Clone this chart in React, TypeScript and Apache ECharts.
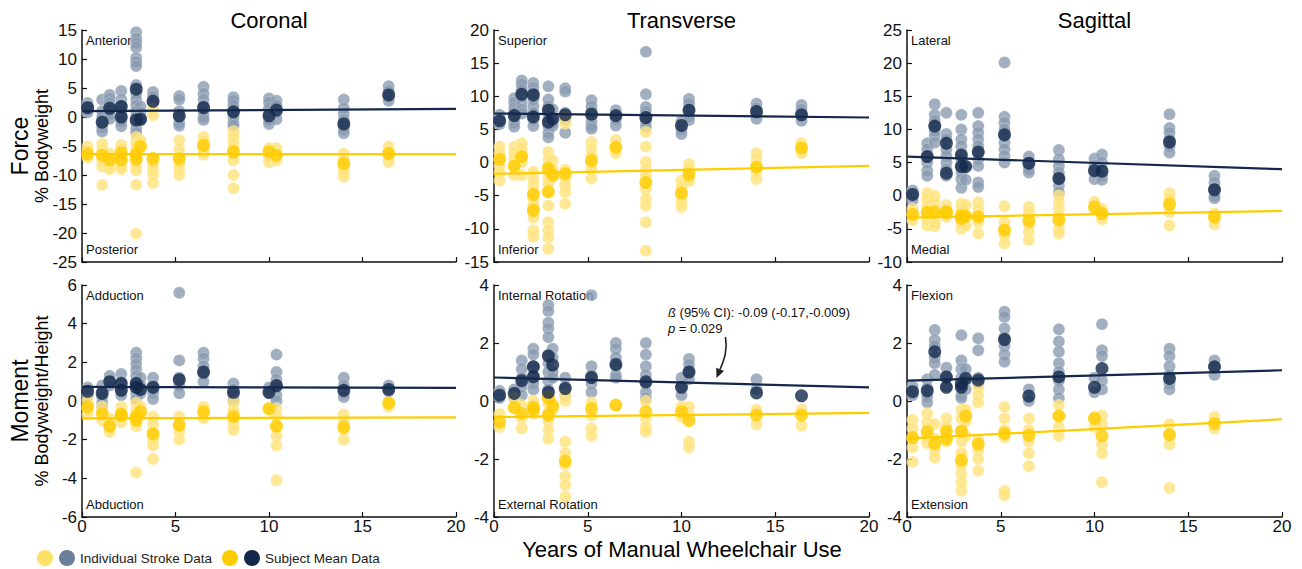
import { useEffect, useRef } from "react";
import * as echarts from "echarts";

const FONT = "'Liberation Sans', Arial, Helvetica, sans-serif";

// Years of manual wheelchair use for each subject
const years = [0.3, 1.08, 1.48, 2.1, 2.1, 2.9, 2.9, 3.13, 3.8, 5.2, 6.5, 8.1, 10.0, 10.4, 14.0, 16.4];

const columnTitles = ["Coronal", "Transverse", "Sagittal"];
const xTickValues = [0, 5, 10, 15, 20];

// ---------- Force, coronal (% bodyweight) ----------
const cfPos = [
  [2.4, 1.8, 1.2, 0.8], [3.0, 1.0, 0, -1.0, -1.8, -2.5], [3.8, 3.2, 2.4, 1.2, 0.5, -0.3],
  [4.5, 3.0, 2.0, 1.0, 0.2], [-0.8, -1.6], [14.6, 13.5, 12.8, 12.0, 10.2, 9.5, 8.8, 5.5, 4.0, 3.0],
  [2.0, 1.0, 0, -1.0, -2.0, -2.7], [1.8, 0.8, 0, -0.5], [4.3, 3.5, 2.5], [3.6, 3.0, 1.0, 0, -1.0, -1.5],
  [5.2, 4.0, 3.0, 2.0, 1.0, 0, -0.5], [3.4, 2.8, 2.0, 1.0, 0, -1.0, -1.5], [3.2, 2.5, 1.5, 0.5, -0.5, -1.2],
  [2.8, 2.0, 0.8, -0.4], [3.0, 1.5, 0.5, -0.5, -1.5, -2.2, -2.8], [5.3, 4.5, 3.5, 2.8],
];
const cfNeg = [
  [-5.1, -5.8, -6.5, -7.0], [-4.6, -5.5, -6.5, -7.5, -8.5, -11.7], [-6.3, -7.5, -8.5, -9.0],
  [-4.8, -5.5, -6.5], [-7.5, -8.5, -9.0], [-3.5, -4.5, -5.5, -6.5, -11.7, -20.1], [-7.5, -8.5, -9.2],
  [-4.0, -5.0], [1.3, 0.3, -7.0, -8.0, -9.0, -10.0, -11.4], [-4.0, -5.5, -7.0, -8.0, -9.0, -10.0],
  [-3.4, -4.2, -5.2, -6.0, -6.5], [-2.5, -3.5, -4.5, -5.5, -6.5, -7.5, -10.0, -12.3],
  [-5.4, -6.5, -7.0, -7.8], [-5.4, -6.5, -7.5], [-6.3, -7.5, -8.5, -9.5, -10.3], [-5.1, -6.0, -7.0, -7.8],
];
const cfPosMean = [1.6, -0.9, 1.5, 1.8, 0.0, 4.8, -0.5, -0.4, 2.7, 0.2, 1.6, 0.9, 0.2, 1.2, -1.2, 3.8];
const cfNegMean = [-6.4, -6.6, -7.4, -6.2, -7.4, -6.4, -7.3, -5.1, -7.2, -7.2, -4.9, -6.0, -6.0, -6.6, -8.0, -6.3];
const cfPosFit = [1.0, 1.4];
const cfNegFit = [-6.4, -6.4];

// ---------- Force, transverse ----------
const tfPos = [
  [7.2, 6.5, 5.8], [9.7, 9.0, 8.2, 7.5, 6.8, 6.0, 5.4], [12.4, 11.8, 11.0, 10.0, 9.0, 8.0, 7.4],
  [12.0, 11.3, 10.5, 9.5, 8.5], [7.5, 6.5, 5.5], [11.5, 9.5, 8.5, 7.5], [6.5, 5.5, 4.5, 3.8],
  [8.0, 7.0, 6.0, 5.5], [11.2, 10.7, 7.5, 6.5, 4.5], [9.4, 8.5, 7.8, 7.0, 6.2, 5.5, 5.1],
  [7.9, 7.2, 6.5, 5.6], [16.7, 10.3, 8.4, 7.7, 6.9, 6.2, 5.4], [6.2, 5.0, 4.3],
  [9.6, 8.9, 8.0, 7.0, 6.4], [8.9, 8.2, 7.4, 6.6], [8.7, 8.0, 7.2, 6.3],
];
const tfNeg = [
  [2.4, 1.4, 0.5, -0.5, -1.5, -2.7], [2.4, 1.5, 0.5, -0.5, -1.9], [2.9, 2.0, 1.0, 0, -1.9],
  [-1.4, -2.5, -3.5, -4.5, -5.5], [-6.5, -7.5, -8.3, -10.2, -11.2], [1.6, 0.5, -0.5, -1.5, -2.5, -3.2],
  [-4.5, -6.5, -9.0, -10.2, -11.3, -13.0], [0.3, -1.0, -2.2], [6.9, 5.9, -1.1, -2.5, -3.5, -4.5, -6.2],
  [3.1, 2.0, 1.0, 0, -1.0, -2.4], [3.4, 2.4, 1.4],
  [4.6, 2.4, 0.1, -1.0, -2.0, -3.0, -4.0, -5.5, -6.5, -9.0, -13.3], [-2.7, -3.7, -5.0, -6.0, -6.7],
  [-0.2, -1.0, -2.0, -2.8], [1.4, 0.5, -0.5, -1.5, -2.5], [2.9, 2.2, 1.4],
];
const tfPosMean = [6.3, 7.1, 10.3, 10.2, 6.9, 7.9, 6.1, 6.6, 7.2, 7.3, 7.1, 6.8, 5.6, 7.9, 7.7, 7.2];
const tfNegMean = [0.5, -0.5, 0.9, -4.8, -7.2, -0.9, -4.4, -1.9, -1.7, 0.3, 2.3, -3.0, -4.6, -1.8, -0.7, 2.2];
const tfPosFit = [7.4, 6.8];
const tfNegFit = [-1.7, -0.5];

// ---------- Force, sagittal ----------
const sfPos = [
  [0.8, 0, -0.7], [7.9, 7.0, 6.0, 5.0, 3.8, 3.0], [13.8, 12.2, 11.3, 10.5, 9.8, 9.0, 8.0],
  [12.5, 9.3, 8.5, 7.0, 6.0], [5.0, 4.0, 3.0], [12.2, 10.0, 8.5, 7.5, 6.5], [5.5, 4.5, 3.5, 2.5, 1.2],
  [4.5, 2.4], [12.5, 10.5, 9.5, 8.5, 7.5, 6.5, 5.5, 4.5, 2.0, 1.3],
  [20.1, 11.9, 11.0, 10.0, 9.0, 8.0, 7.0, 6.0, 5.0], [5.9, 5.0, 4.0, 3.5],
  [6.9, 5.5, 4.5, 3.5, 2.5, 1.5, 0.5], [5.6, 4.5, 3.5, 2.5], [6.2, 5.0, 4.0, 3.0, 2.4],
  [12.3, 10.2, 9.5, 8.5, 7.5, 6.5], [3.0, 2.0, 1.0, 0, -0.4],
];
const sfNeg = [
  [-2.0, -2.8, -3.7], [0.4, -0.5, -1.5, -2.5, -3.5, -4.5], [0, -1.0, -2.0, -3.0, -4.0, -4.6],
  [-1.4, -2.3, -3.2], [-2.8], [-1.2, -2.0, -3.0, -4.0, -5.0], [-2.5, -3.8], [-1.4, -3.0, -4.5],
  [-1.0, -2.0, -3.0, -4.0, -5.7], [-1.6, -4.0, -5.0, -6.0, -7.2], [-1.7, -2.5, -3.5, -4.5, -5.5, -6.7],
  [0, -1.0, -2.0, -3.0, -4.0, -5.0, -5.7], [-0.9, -2.0], [-2.0, -2.8, -3.6],
  [0.4, -0.5, -1.5, -2.5, -4.5], [-2.7, -3.5, -4.3],
];
const sfPosMean = [0.2, 5.9, 10.5, 7.9, 3.4, 6.1, 4.4, 4.4, 6.6, 9.2, 4.9, 2.6, 3.8, 3.7, 8.1, 0.9];
const sfNegMean = [-2.8, -2.5, -2.5, -2.4, -2.6, -3.4, -3.0, -3.1, -3.2, -5.2, -3.8, -3.6, -1.7, -2.7, -1.3, -3.2];
const sfPosFit = [5.9, 4.0];
const sfNegFit = [-3.3, -2.3];

// ---------- Moment, coronal (% bodyweight/height) ----------
const cmPos = [
  [0.7, 0.3], [0.8, 0.5, 0.2, -0.1, -0.3], [1.3, 1.0, 0.8], [1.4, 1.0], [0.6, 0.3],
  [2.5, 2.2, 1.9, 1.6, 1.3], [1.0, 0.7, 0.4, 0.1], [1.2, 0.8, 0.4], [1.2, 0.8, 0.4, 0.1],
  [5.6, 2.1, 1.2, 0.8, 0.4], [2.5, 2.2, 1.8, 1.4, 1.0], [0.9, 0.6, 0.3, 0], [0.7, 0.4],
  [2.4, 1.5, 1.1, 0.7, 0.3, 0.0], [1.2, 0.8, 0.4, 0.2], [0.8, 0.5],
];
const cmNeg = [
  [0, -0.4, -0.7], [-0.3, -0.6, -1.0], [-0.9, -1.2, -1.6], [-0.3, -0.6], [-1.1], [-0.1, -0.5, -0.9],
  [-1.3, -3.7], [-0.3, -0.7], [-0.8, -1.2, -1.6, -2.0, -2.3, -3.0], [-0.8, -1.2, -1.6, -2.0],
  [-0.3, -0.6, -0.9], [-0.1, -0.5, -0.9, -1.2, -1.5], [-0.4], [-0.4, -0.8, -1.3, -1.8, -2.3, -4.1],
  [-0.7, -1.1, -1.5, -2.0], [-0.1, -0.3],
];
const cmPosMean = [0.5, 0.4, 1.0, 0.9, 0.55, 0.9, 0.7, 0.6, 0.7, 1.1, 1.5, 0.45, 0.45, 0.8, 0.55, 0.6];
const cmNegMean = [-0.3, -0.65, -1.3, -0.7, -0.75, -0.8, -1.0, -0.55, -1.7, -1.25, -0.55, -0.8, -0.4, -1.3, -1.35, -0.1];
const cmPosFit = [0.73, 0.68];
const cmNegFit = [-0.9, -0.85];

// ---------- Moment, transverse ----------
const tmPos = [
  [0.35, 0.1], [0.4, 0.1], [1.4, 1.1, 0.8, 0.5, 0.2], [1.8, 1.6, 1.2], [0.9, 0.6, 0.4],
  [3.3, 3.1, 2.7, 2.5, 2.2], [1.6, 1.3, 1.0, 0.7, 0.4, 0.1], [1.8, 1.5, 1.0, 0.8], [0.8, 0.5, 0.2],
  [3.65, 1.2, 0.9, 0.6, 0.3], [2.0, 1.8, 1.5, 1.2, 0.9, 0.8], [2.0, 1.6, 1.2, 0.9, 0.6, 0.3, 0.1],
  [0.8, 0.5, 0.2], [1.45, 1.25, 1.0, 0.75], [0.75, 0.4], [],
];
const tmNeg = [
  [-0.45, -0.9], [0.1, -0.25], [-0.15, -0.6, -0.95], [0, -0.45], [-0.3], [0.15, -0.1, -0.4],
  [-0.7, -1.0, -1.3], [-0.1, -0.3], [0.2, 0, -1.4, -1.8, -2.2, -2.6, -2.9, -3.3],
  [-0.05, -0.5, -0.95, -1.2], [-0.15], [0, -0.6, -0.9, -1.05], [-0.2, -0.55],
  [-0.2, -0.5, -1.4, -1.6], [-0.3, -0.8], [-0.3, -0.85],
];
const tmPosMean = [0.2, 0.26, 0.7, 1.18, 0.83, 1.55, 0.3, 1.24, 0.43, 0.81, 1.26, 0.66, 0.47, 1.0, 0.28, 0.18];
const tmNegMean = [-0.72, -0.22, -0.43, -0.22, -0.3, -0.49, 0.1, -0.18, -2.07, -0.26, -0.14, -0.37, -0.37, -0.68, -0.49, -0.49];
const tmPosFit = [0.81, 0.47];
const tmNegFit = [-0.55, -0.41];

// ---------- Moment, sagittal ----------
const smPos = [
  [0.5, 0.2], [0.75, 0.45, 0.15, -0.05], [2.45, 2.1, 1.9, 1.5, 1.3, 0.9], [1.15, 0.8], [0.5],
  [2.27, 1.4, 1.1, 0.8], [0.5, 0.2, 0.1], [1.1, 0.7, 0.4], [2.16, 1.75, 0.8, 0.6],
  [3.08, 2.9, 2.5, 2.2, 1.9, 1.6, 1.35], [0.4, 0.0], [2.47, 2.05, 1.7, 1.3, 1.0, 0.7, 0.4, 0.1],
  [0.8, 0.3], [2.65, 1.75, 1.55, 0.7, 0.4], [1.8, 1.55, 1.2, 0.9, 0.6, 0.4], [1.4, 1.2, 0.9],
];
const smNeg = [
  [-0.65, -0.95, -1.3, -1.6, -2.1], [-0.43, -0.75, -1.2, -1.45], [-0.8, -1.3, -1.7, -1.95], [-0.6, -0.9],
  [-1.4], [-0.3, -0.6, -1.0, -1.4], [-1.8, -2.2, -2.5, -2.8, -3.1], [-0.3, -0.7, -1.2],
  [0.45, 0.2, -0.05, -1.35, -1.7, -2.0, -2.4], [-0.2, -0.6, -1.0, -1.25, -3.1, -3.25],
  [-0.6, -1.0, -1.4, -1.8, -2.25], [-0.15, -0.5, -0.9, -1.2], [-0.55, -0.9], [-0.5, -0.8, -1.5, -1.8, -2.8],
  [-0.8, -1.2, -1.5, -3.0], [-0.55, -0.95],
];
const smPosMean = [0.32, 0.35, 1.7, 0.83, 0.47, 0.47, 0.6, 0.78, 0.72, 2.12, 0.17, 0.83, 0.47, 1.12, 0.78, 1.18];
const smNegMean = [-1.26, -1.06, -1.47, -1.04, -1.3, -1.04, -2.04, -0.52, -1.49, -1.12, -1.18, -0.52, -0.6, -1.2, -1.16, -0.78];
const smPosFit = [0.7, 1.06];
const smNegFit = [-1.3, -0.63];

type Panel = {
  pos: number[][];
  neg: number[][];
  posMean: number[];
  negMean: number[];
  posFit: number[];
  negFit: number[];
  min: number;
  max: number;
  step: number;
  hi: string;
  lo: string;
};

const panels: Panel[] = [
  { pos: cfPos, neg: cfNeg, posMean: cfPosMean, negMean: cfNegMean, posFit: cfPosFit, negFit: cfNegFit, min: -25, max: 15, step: 5, hi: "Anterior", lo: "Posterior" },
  { pos: tfPos, neg: tfNeg, posMean: tfPosMean, negMean: tfNegMean, posFit: tfPosFit, negFit: tfNegFit, min: -15, max: 20, step: 5, hi: "Superior", lo: "Inferior" },
  { pos: sfPos, neg: sfNeg, posMean: sfPosMean, negMean: sfNegMean, posFit: sfPosFit, negFit: sfNegFit, min: -10, max: 25, step: 5, hi: "Lateral", lo: "Medial" },
  { pos: cmPos, neg: cmNeg, posMean: cmPosMean, negMean: cmNegMean, posFit: cmPosFit, negFit: cmNegFit, min: -6, max: 6, step: 2, hi: "Adduction", lo: "Abduction" },
  { pos: tmPos, neg: tmNeg, posMean: tmPosMean, negMean: tmNegMean, posFit: tmPosFit, negFit: tmNegFit, min: -4, max: 4, step: 2, hi: "Internal Rotation", lo: "External Rotation" },
  { pos: smPos, neg: smNeg, posMean: smPosMean, negMean: smNegMean, posFit: smPosFit, negFit: smNegFit, min: -4, max: 4, step: 2, hi: "Flexion", lo: "Extension" },
];

// Layout of the 2 x 3 grid of plots (pixels)
const GRID_LEFT = [82, 494, 907];
const GRID_WIDTH = [374, 375, 375];
const GRID_TOP = [30, 285];
const GRID_HEIGHT = 232;

const GREY = "#8a9bb0";
const YELLOW = "#ffe27a";
const NAVY = "#13284b";
const GOLD = "#ffcc00";
const INK = "#111111";

const strokePoints = (cols: number[][]) =>
  cols.flatMap((vals, i) => vals.map((v) => [years[i], v]));
const meanPoints = (means: number[]) => means.map((v, i) => [years[i], v]);
const fitPoints = (fit: number[]) => [
  [xTickValues[0], fit[0]],
  [xTickValues[xTickValues.length - 1], fit[1]],
];

function buildOption(): echarts.EChartsOption {
  const grid: any[] = [];
  const xAxis: any[] = [];
  const yAxis: any[] = [];
  const series: any[] = [];
  const graphic: any[] = [];

  panels.forEach((p, k) => {
    const row = Math.floor(k / 3);
    const col = k % 3;
    const left = GRID_LEFT[col];
    const top = GRID_TOP[row];
    grid.push({ left, top, width: GRID_WIDTH[col], height: GRID_HEIGHT, containLabel: false, outerBoundsMode: "none" });

    xAxis.push({
      type: "value",
      gridIndex: k,
      min: 0,
      max: 20,
      interval: 5,
      axisLine: { show: true, onZero: false, lineStyle: { color: INK, width: 1.5 } },
      axisTick: { show: true, inside: true, length: 5, lineStyle: { color: INK, width: 1.2 } },
      axisLabel: {
        show: row === 1,
        fontSize: 17,
        lineHeight: 17,
        fontFamily: FONT,
        color: INK,
        margin: 1,
        showMinLabel: true,
        showMaxLabel: true,
      },
      splitLine: { show: false },
    });
    yAxis.push({
      type: "value",
      gridIndex: k,
      min: p.min,
      max: p.max,
      interval: p.step,
      axisLine: { show: true, onZero: false, lineStyle: { color: INK, width: 1.5 } },
      axisTick: { show: true, inside: true, length: 5, lineStyle: { color: INK, width: 1.2 } },
      axisLabel: {
        fontSize: 17,
        fontFamily: FONT,
        color: INK,
        margin: 5,
        showMinLabel: true,
        showMaxLabel: true,
      },
      splitLine: { show: false },
    });

    const axes = { xAxisIndex: k, yAxisIndex: k, silent: true };
    series.push(
      {
        ...axes,
        type: "scatter",
        symbolSize: 12,
        data: strokePoints(p.pos),
        itemStyle: { color: GREY, borderColor: "rgba(255,255,255,0.45)", borderWidth: 0.6 },
      },
      {
        ...axes,
        type: "scatter",
        symbolSize: 12,
        data: strokePoints(p.neg),
        itemStyle: { color: YELLOW, borderColor: "rgba(255,255,255,0.45)", borderWidth: 0.6 },
      },
      {
        ...axes,
        type: "line",
        symbol: "none",
        data: fitPoints(p.posFit),
        lineStyle: { color: NAVY, width: 2.2 },
      },
      {
        ...axes,
        type: "line",
        symbol: "none",
        data: fitPoints(p.negFit),
        lineStyle: { color: GOLD, width: 2.2 },
      },
      {
        ...axes,
        type: "scatter",
        symbolSize: 13,
        data: meanPoints(p.negMean),
        itemStyle: { color: GOLD },
      },
      {
        ...axes,
        type: "scatter",
        symbolSize: 13,
        data: meanPoints(p.posMean),
        itemStyle: { color: NAVY },
      }
    );

    // direction labels inside each plot
    graphic.push(
      {
        type: "text",
        x: left + 4,
        y: top + 10,
        style: { text: p.hi, fontSize: 13, fontFamily: FONT, fill: INK, align: "left", verticalAlign: "middle" },
      },
      {
        type: "text",
        x: left + 4,
        y: top + GRID_HEIGHT - 13,
        style: { text: p.lo, fontSize: 13, fontFamily: FONT, fill: INK, align: "left", verticalAlign: "middle" },
      }
    );
  });

  // column titles
  columnTitles.forEach((t, c) => {
    graphic.push({
      type: "text",
      x: GRID_LEFT[c] + GRID_WIDTH[c] / 2,
      y: 20,
      style: { text: t, fontSize: 22, fontFamily: FONT, fill: "#000", align: "center", verticalAlign: "middle" },
    });
  });

  // row titles
  const rowTitles = [
    ["Force", "% Bodyweight"],
    ["Moment", "% Bodyweight/Height"],
  ];
  rowTitles.forEach(([main, unit], r) => {
    const cy = GRID_TOP[r] + GRID_HEIGHT / 2;
    graphic.push(
      {
        type: "text",
        x: 20,
        y: cy,
        rotation: Math.PI / 2,
        style: { text: main, fontSize: 23, fontFamily: FONT, fill: "#000", align: "center", verticalAlign: "middle" },
      },
      {
        type: "text",
        x: 42,
        y: cy,
        rotation: Math.PI / 2,
        style: { text: unit, fontSize: 18, fontFamily: FONT, fill: "#000", align: "center", verticalAlign: "middle" },
      }
    );
  });

  // shared x-axis title
  graphic.push({
    type: "text",
    x: 682,
    y: 549,
    style: {
      text: "Years of Manual Wheelchair Use",
      fontSize: 22,
      lineHeight: 22,
      fontFamily: FONT,
      fill: "#000",
      align: "center",
      verticalAlign: "middle",
    },
  });

  // regression annotation in the transverse moment plot
  const rich = { i: { fontStyle: "italic", fontSize: 13, fontFamily: FONT, fill: "#111" } };
  graphic.push(
    {
      type: "text",
      x: 668,
      y: 312,
      style: {
        text: "{i|ß} (95% CI): -0.09 (-0.17,-0.009)",
        rich,
        fontSize: 13,
        fontFamily: FONT,
        fill: "#111",
        align: "left",
        verticalAlign: "middle",
      },
    },
    {
      type: "text",
      x: 668,
      y: 328,
      style: {
        text: "{i|p} = 0.029",
        rich,
        fontSize: 13,
        fontFamily: FONT,
        fill: "#111",
        align: "left",
        verticalAlign: "middle",
      },
    },
    {
      type: "bezierCurve",
      shape: { x1: 725.5, y1: 337, cpx1: 728, cpy1: 352, cpx2: 723, cpy2: 362, x2: 720, y2: 369.5 },
      style: { stroke: "#222", lineWidth: 1.6, fill: null },
    },
    {
      type: "polygon",
      shape: { points: [[716.5, 378], [724, 371], [716.2, 367.8]] },
      style: { fill: "#222" },
    }
  );

  // legend
  const legendY = 558;
  graphic.push(
    { type: "circle", shape: { cx: 45, cy: legendY, r: 8 }, style: { fill: "#ffe066" } },
    { type: "circle", shape: { cx: 67, cy: legendY, r: 8 }, style: { fill: "#6b7f99" } },
    {
      type: "text",
      x: 80,
      y: legendY,
      style: { text: "Individual Stroke Data", fontSize: 13.5, fontFamily: FONT, fill: "#222", align: "left", verticalAlign: "middle" },
    },
    { type: "circle", shape: { cx: 230, cy: legendY, r: 8 }, style: { fill: GOLD } },
    { type: "circle", shape: { cx: 252, cy: legendY, r: 8 }, style: { fill: NAVY } },
    {
      type: "text",
      x: 265,
      y: legendY,
      style: { text: "Subject Mean Data", fontSize: 13.5, fontFamily: FONT, fill: "#222", align: "left", verticalAlign: "middle" },
    }
  );

  return {
    animation: false,
    backgroundColor: "#ffffff",
    grid,
    xAxis,
    yAxis,
    series,
    graphic,
  } as echarts.EChartsOption;
}

export default function App() {
  const ref = useRef<HTMLDivElement>(null);

  useEffect(() => {
    if (!ref.current) return;
    const chart = echarts.init(ref.current, undefined, { renderer: "svg" });
    chart.setOption(buildOption());
    return () => chart.dispose();
  }, []);

  return (
    <div
      ref={ref}
      style={{ position: "fixed", left: 0, top: 0, width: 1302, height: 569, background: "#fff" }}
    />
  );
}
